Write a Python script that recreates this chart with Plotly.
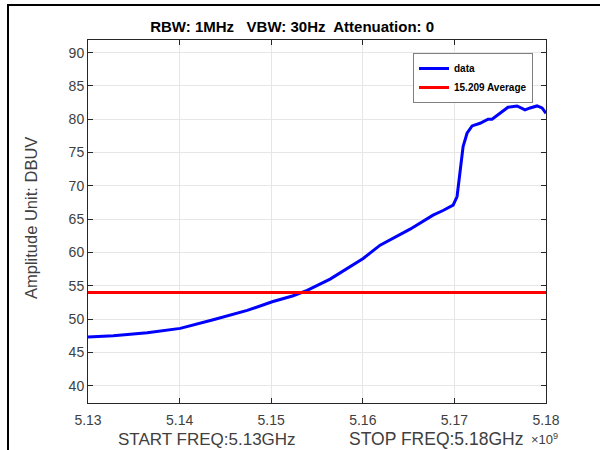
import plotly.graph_objects as go

# Frequency (GHz, axis scaled x10^9) and amplitude (dBuV)
freq_ghz = [5.1300, 5.13276, 5.13647, 5.14007, 5.14367, 5.14738, 5.15011, 5.15240,
            5.15393, 5.15643, 5.16004, 5.16189, 5.16516, 5.16626, 5.16767, 5.16876,
            5.16986, 5.17029, 5.17062, 5.17095, 5.17138, 5.17193, 5.17280, 5.17367,
            5.17411, 5.17498, 5.17585, 5.17684, 5.17771, 5.17826, 5.17902, 5.17957,
            5.18000]
amplitude = [47.3, 47.5, 47.95, 48.6, 49.9, 51.3, 52.6, 53.5,
             54.3, 56.0, 59.1, 61.1, 63.5, 64.4, 65.6, 66.3,
             67.1, 68.4, 72.4, 75.9, 77.9, 79.0, 79.4, 80.0,
             80.0, 80.9, 81.8, 82.0, 81.4, 81.7, 82.0, 81.7,
             80.9]
limit_freq = [5.13, 5.18]
limit_level = [54, 54]

x_ticks = [5.13, 5.14, 5.15, 5.16, 5.17, 5.18]
x_tick_labels = ["5.13", "5.14", "5.15", "5.16", "5.17", "5.18"]
y_ticks = [40, 45, 50, 55, 60, 65, 70, 75, 80, 85, 90]

title_text = "RBW: 1MHz   VBW: 30Hz  Attenuation: 0"
y_title = "Amplitude Unit: DBUV"
start_label = "START FREQ:5.13GHz"
stop_label = "STOP FREQ:5.18GHz"

FONT = "Arial, Liberation Sans, Helvetica, sans-serif"
TXT = "#404040"
AX = "#262626"

fig = go.Figure()
fig.add_trace(go.Scatter(x=freq_ghz, y=amplitude, mode="lines", name="data",
                         line=dict(color="#0000ff", width=3)))
fig.add_trace(go.Scatter(x=limit_freq, y=limit_level, mode="lines", name="15.209 Average",
                         line=dict(color="#ff0000", width=3)))

L, R, T, B = 88, 54, 40, 47
pw = 600 - L - R
ph = 450 - T - B

def px(x):
    return (x - L) / pw

def py(y):
    return (450 - B - y) / ph

fig.update_layout(
    width=600, height=450,
    margin=dict(l=L, r=R, t=T, b=B, autoexpand=False),
    paper_bgcolor="white", plot_bgcolor="white",
    font=dict(family=FONT, color=TXT, size=14),
    title=dict(text="<b>" + title_text + "</b>", x=px(311), xanchor="center",
               y=1 - 27 / 450, yanchor="middle",
               font=dict(size=15, color="black", family=FONT)),
    showlegend=True,
    legend=dict(x=px(533), y=py(53), xanchor="right", yanchor="top",
                bgcolor="white", bordercolor="#7f7f7f", borderwidth=1,
                font=dict(size=10, color="black", family=FONT, weight="bold"),
                itemwidth=30, tracegroupgap=0),
    xaxis=dict(range=[5.13, 5.18], tickvals=x_ticks, ticktext=x_tick_labels,
               showgrid=True, gridcolor="#e6e6e6", gridwidth=1,
               showline=True, linecolor=AX, linewidth=1, mirror="ticks",
               ticks="inside", ticklen=5, tickcolor=AX, automargin=False,
               ticklabelstandoff=4,
               tickfont=dict(size=14, color=TXT), zeroline=False),
    yaxis=dict(range=[37.4, 91.9], tickvals=y_ticks,
               showgrid=True, gridcolor="#e6e6e6", gridwidth=1,
               showline=True, linecolor=AX, linewidth=1, mirror="ticks",
               ticks="inside", ticklen=5, tickcolor=AX, automargin=False,
               tickfont=dict(size=14, color=TXT), zeroline=False),
)

fig.add_annotation(text=y_title, xref="paper", yref="paper",
                   x=px(31), y=py(218), xanchor="center", yanchor="middle",
                   textangle=-90, showarrow=False, font=dict(size=16.5, color=TXT))
fig.add_annotation(text=start_label, xref="paper", yref="paper",
                   x=px(207), y=py(439), xanchor="center", yanchor="middle",
                   showarrow=False, font=dict(size=17, color=TXT))
fig.add_annotation(text=stop_label, xref="paper", yref="paper",
                   x=px(436), y=py(439), xanchor="center", yanchor="middle",
                   showarrow=False, font=dict(size=17.5, color=TXT))
fig.add_annotation(text="\u00d710<sup>9</sup>", xref="paper", yref="paper",
                   x=px(529), y=py(439), xanchor="left", yanchor="middle",
                   showarrow=False, font=dict(size=13, color=TXT))

# outer frame of the figure window
fig.add_shape(type="rect", xref="paper", yref="paper",
              x0=px(8), y0=py(460), x1=px(610), y1=py(5),
              line=dict(color="black", width=2), fillcolor="rgba(0,0,0,0)", layer="below")

fig.write_html("out.html", config={"displayModeBar": False},
               post_script="document.body.style.margin='0px';")
